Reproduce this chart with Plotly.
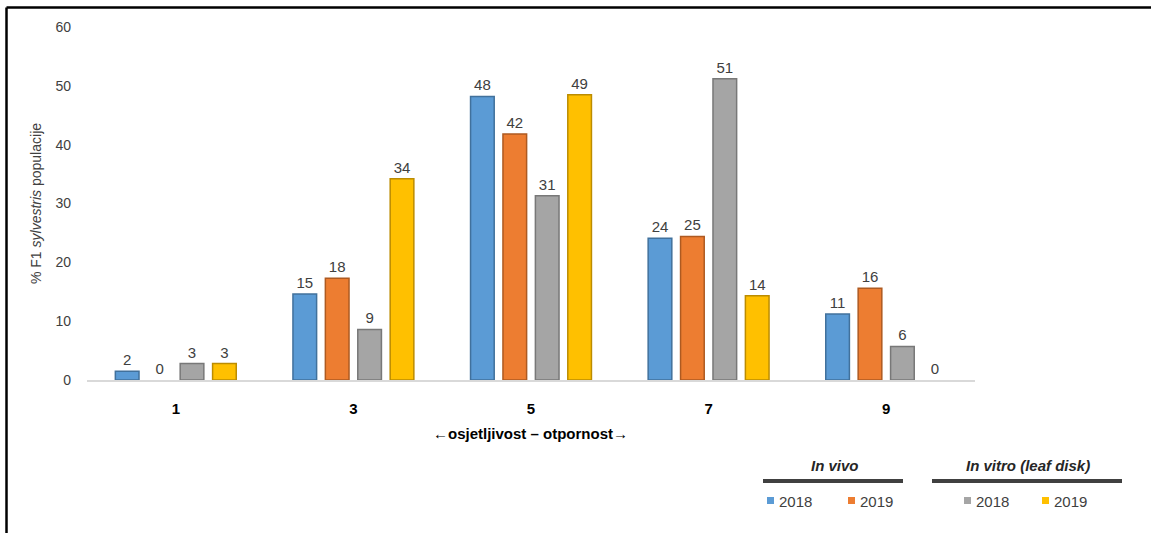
import plotly.graph_objects as go

categories = ["1", "3", "5", "7", "9"]
in_vivo_2018 = [1.5, 14.6, 48.2, 24.1, 11.2]
in_vivo_2019 = [0.0, 17.3, 41.8, 24.4, 15.6]
in_vitro_2018 = [2.8, 8.6, 31.3, 51.2, 5.7]
in_vitro_2019 = [2.8, 34.2, 48.5, 14.3, 0.0]
labels_vivo_2018 = [2, 15, 48, 24, 11]
labels_vivo_2019 = [0, 18, 42, 25, 16]
labels_vitro_2018 = [3, 9, 31, 51, 6]
labels_vitro_2019 = [3, 34, 49, 14, 0]
series_names = ["In vivo 2018", "In vivo 2019", "In vitro 2018", "In vitro 2019"]
y_ticks = [0, 10, 20, 30, 40, 50, 60]

fill_colors = ["#5B9BD5", "#ED7D31", "#A5A5A5", "#FFC000"]
edge_colors = ["#41719C", "#AE5A21", "#787878", "#BC8C00"]

W, H = 1151, 533
L, R, T, B = 87, 176, 27, 153
pw, ph = W - L - R, H - T - B

def px(x):
    return (x - L) / pw

def py(y):
    return (H - B - y) / ph

fig = go.Figure()
for vals, labs, name, fc, ec in zip(
    [in_vivo_2018, in_vivo_2019, in_vitro_2018, in_vitro_2019],
    [labels_vivo_2018, labels_vivo_2019, labels_vitro_2018, labels_vitro_2019],
    series_names, fill_colors, edge_colors):
    fig.add_trace(go.Bar(
        x=categories, y=vals, name=name,
        text=[str(v) for v in labs], textposition="outside",
        textfont=dict(family="Liberation Sans", size=15, color="#404040"),
        cliponaxis=False,
        marker=dict(color=fc, line=dict(color=ec,
                    width=[1.5 if v > 0 else 0 for v in vals])),
        showlegend=False,
    ))

fig.update_layout(
    width=W, height=H,
    margin=dict(l=L, r=R, t=T, b=B, pad=0),
    paper_bgcolor="white", plot_bgcolor="white",
    barmode="group", bargap=0.27, bargroupgap=0.27,
    font=dict(family="Liberation Sans", color="#404040"),
    xaxis=dict(
        type="category", tickmode="array", tickvals=categories,
        ticktext=["<b>%s</b>" % c for c in categories],
        tickfont=dict(size=15, color="#000000"),
        showline=True, linecolor="#D9D9D9", linewidth=1.5,
        showgrid=False, zeroline=False, ticks="", ticklabelstandoff=14,
    ),
    yaxis=dict(
        range=[0, 60], tickvals=y_ticks, showgrid=False, zeroline=False,
        showline=False, tickfont=dict(size=14, color="#404040"),
        ticklabelstandoff=15,
        title=dict(text="% F1 <i>sylvestris</i> populacije",
                   font=dict(size=14, color="#404040"), standoff=10),
    ),
)

annotations = [
    dict(x=px(530), y=py(433), xref="paper", yref="paper",
         text="<b>←osjetljivost – otpornost→</b>", showarrow=False,
         font=dict(size=15, color="#000000"), xanchor="center", yanchor="middle"),
    dict(x=px(835), y=py(465), xref="paper", yref="paper",
         text="<b><i>In vivo</i></b>", showarrow=False,
         font=dict(size=15, color="#262626"), xanchor="center", yanchor="middle"),
    dict(x=px(1028), y=py(465), xref="paper", yref="paper",
         text="<b><i>In vitro (leaf disk)</i></b>", showarrow=False,
         font=dict(size=15, color="#262626"), xanchor="center", yanchor="middle"),
]
legend_items = [(767, "2018", fill_colors[0]), (848, "2019", fill_colors[1]),
                (964, "2018", fill_colors[2]), (1042, "2019", fill_colors[3])]
shapes = [
    dict(type="line", xref="paper", yref="paper", x0=px(6.5), x1=px(1151),
         y0=py(7.5), y1=py(7.5), line=dict(color="black", width=2.5)),
    dict(type="line", xref="paper", yref="paper", x0=px(6.5), x1=px(6.5),
         y0=py(7.5), y1=py(533), line=dict(color="black", width=2.5)),
    dict(type="line", xref="paper", yref="paper", x0=px(763), x1=px(903),
         y0=py(481), y1=py(481), line=dict(color="#404040", width=4)),
    dict(type="line", xref="paper", yref="paper", x0=px(932), x1=px(1122),
         y0=py(481), y1=py(481), line=dict(color="#404040", width=4)),
]
for x0, lab, col in legend_items:
    shapes.append(dict(type="rect", xref="paper", yref="paper",
                       x0=px(x0), x1=px(x0 + 7), y0=py(504), y1=py(497),
                       fillcolor=col, line=dict(width=0)))
    annotations.append(dict(x=px(x0 + 10), y=py(501), xref="paper", yref="paper",
                            text=lab, showarrow=False, xanchor="left", yanchor="middle",
                            font=dict(size=15, color="#404040")))
fig.update_layout(annotations=annotations, shapes=shapes)

fig.write_html("out.html", config={"displayModeBar": False},
               post_script="document.body.style.margin='0';document.body.style.overflow='hidden';")
